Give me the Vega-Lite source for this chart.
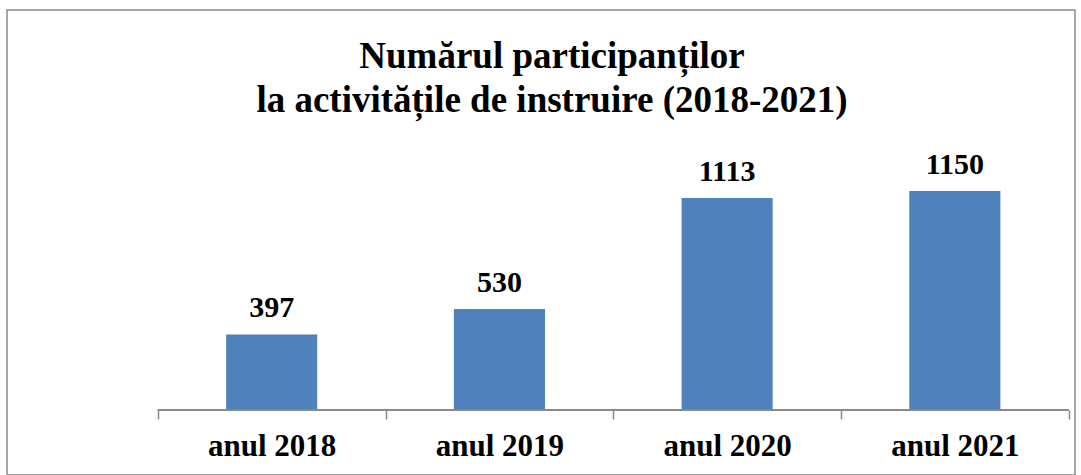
{
  "$schema": "https://vega.github.io/schema/vega-lite/v6.json",
  "width": 1068,
  "height": 465,
  "autosize": {"type": "none"},
  "padding": {"left": 7, "top": 10, "right": 6, "bottom": 0},
  "background": "white",
  "config": {"view": {"stroke": "#8a8a8a", "strokeWidth": 1.5}},
  "title": {
    "text": ["Numărul participanților", "la activitățile de instruire (2018-2021)"],
    "font": "Liberation Serif",
    "fontSize": 37,
    "fontWeight": "bold",
    "color": "black",
    "anchor": "middle",
    "baseline": "top",
    "lineHeight": 44,
    "offset": -110,
    "dx": 11
  },
  "data": {
    "values": [
      {"an": "anul 2018", "v": 397},
      {"an": "anul 2019", "v": 530},
      {"an": "anul 2020", "v": 1113},
      {"an": "anul 2021", "v": 1150}
    ]
  },
  "encoding": {
    "x": {
      "field": "an",
      "type": "nominal",
      "sort": null,
      "scale": {"paddingInner": 0.6, "paddingOuter": 0.645, "align": 0.746},
      "axis": {
        "title": null,
        "orient": "bottom",
        "offset": -65,
        "domain": false,
        "ticks": true,
        "bandPosition": 2.5,
        "tickExtra": true,
        "tickOffset": -68.3,
        "labelOffset": 68.3,
        "tickSize": 9,
        "tickColor": "#8a8a8a",
        "tickWidth": 1.5,
        "labelAngle": 0,
        "labelFont": "Liberation Serif",
        "labelFontSize": 31,
        "labelFontWeight": "bold",
        "labelColor": "black",
        "labelPadding": 12
      }
    }
  },
  "layer": [
    {
      "mark": {"type": "bar", "color": "#4F81BD"},
      "encoding": {
        "y": {"field": "v", "type": "quantitative", "scale": {"domain": [-341, 2100], "nice": false, "zero": false}, "axis": null}
      }
    },
    {
      "mark": {"type": "text", "font": "Liberation Serif", "fontSize": 30, "fontWeight": "bold", "color": "black", "baseline": "alphabetic", "dy": -17},
      "encoding": {
        "y": {"field": "v", "type": "quantitative"},
        "text": {"field": "v", "type": "quantitative"}
      }
    },
    {
      "mark": {"type": "rule", "color": "#8a8a8a", "strokeWidth": 1.5},
      "encoding": {
        "x": {"datum": "anul 2018", "bandPosition": -0.75},
        "x2": {"datum": "anul 2021", "bandPosition": 1.75},
        "y": {"datum": 0}
      }
    }
  ]
}
